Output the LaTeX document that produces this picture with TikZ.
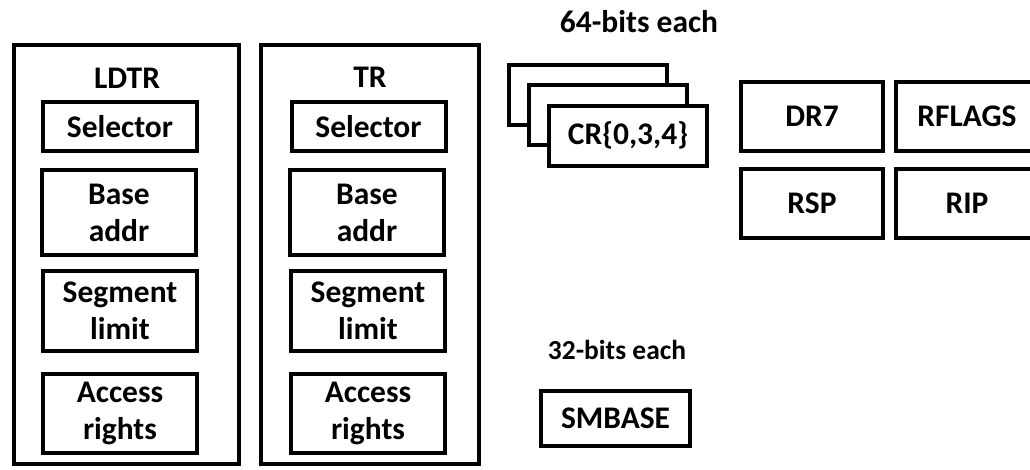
\documentclass[tikz,border=0pt]{standalone}
\usepackage{fontspec}
\setmainfont{Carlito}
\begin{document}
\begin{tikzpicture}[x=0.75pt,y=-0.75pt,
  regbox/.style={draw=black, fill=white, line width=3pt, rectangle, inner sep=0pt,
    align=center, font=\fontsize{23.6}{27.7}\selectfont\bfseries},
  lbl/.style={inner sep=0pt, align=center, font=\fontsize{23.6}{27.7}\selectfont\bfseries},
  smalllbl/.style={inner sep=0pt, align=center, font=\fontsize{20.6}{24}\selectfont\bfseries}]
\def\px{0.75pt}
\clip (0,0) rectangle (1030,469);

% LDTR group
\node[regbox, minimum width=225*\px, minimum height=419*\px] (ldtr) at (126.5,254.5) {};
\node[lbl] (ldtrlbl) at (127,78) {LDTR};
\node[regbox, minimum width=154*\px, minimum height=49*\px] (lsel) at (120,126.5) {Selector};
\node[regbox, minimum width=154*\px, minimum height=85*\px] (lbase) at (119,212.5) {Base\\addr};
\node[regbox, minimum width=154*\px, minimum height=80*\px] (llim) at (120,311) {Segment\\limit};
\node[regbox, minimum width=154*\px, minimum height=79*\px] (lacc) at (120,413.5) {Access\\rights};

% TR group
\node[regbox, minimum width=218*\px, minimum height=419*\px] (tr) at (370,254.5) {};
\node[lbl] (trlbl) at (370,77) {TR};
\node[regbox, minimum width=154*\px, minimum height=49*\px] (tsel) at (368.5,126.5) {Selector};
\node[regbox, minimum width=154*\px, minimum height=85*\px] (tbase) at (367,212.5) {Base\\addr};
\node[regbox, minimum width=154*\px, minimum height=80*\px] (tlim) at (368,311) {Segment\\limit};
\node[regbox, minimum width=154*\px, minimum height=79*\px] (tacc) at (368,413.5) {Access\\rights};

% 64-bit registers
\node[lbl] (bits64) at (639,22) {64-bits each};
\node[regbox, minimum width=158*\px, minimum height=60*\px] (cr0) at (588,95) {};
\node[regbox, minimum width=158*\px, minimum height=60*\px] (cr3) at (608,115) {};
\node[regbox, minimum width=158*\px, minimum height=60*\px] (cr4) at (628,135.5) {CR\{0,3,4\}};
\node[regbox, minimum width=142*\px, minimum height=69*\px] (dr7) at (812,116.5) {DR7};
\node[regbox, minimum width=142*\px, minimum height=69*\px] (rflags) at (967,116.5) {RFLAGS};
\node[regbox, minimum width=142*\px, minimum height=69*\px] (rsp) at (812,203.5) {RSP};
\node[regbox, minimum width=142*\px, minimum height=69*\px] (rip) at (967,203.5) {RIP};

% 32-bit registers
\node[smalllbl] (bits32) at (617,350) {32-bits each};
\node[regbox, minimum width=149*\px, minimum height=55*\px] (smbase) at (615.5,418.5) {SMBASE};
\end{tikzpicture}
\end{document}
